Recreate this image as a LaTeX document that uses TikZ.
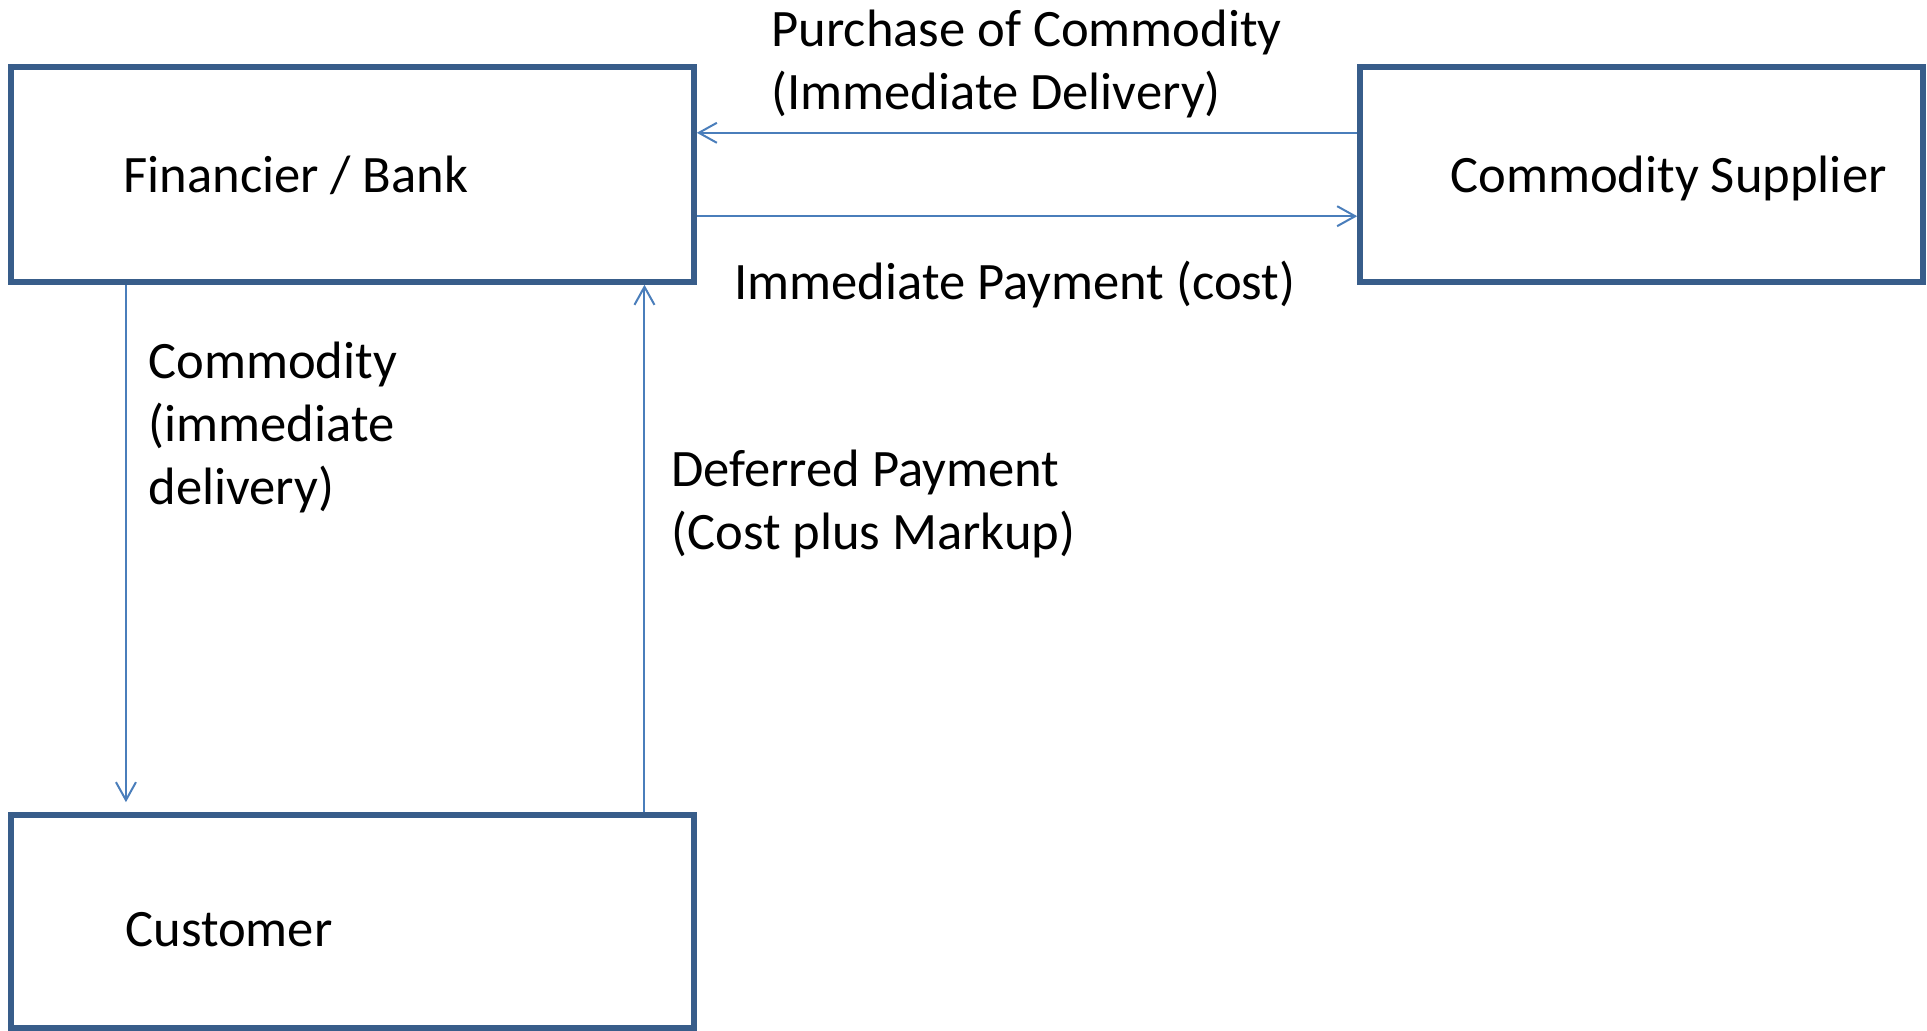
\documentclass[tikz,border=0pt]{standalone}
\usepackage{fontspec}
\setmainfont{Carlito}
\usetikzlibrary{arrows.meta,calc}
\definecolor{boxline}{HTML}{385D8A}
\definecolor{flowline}{HTML}{4A7EBB}
\begin{document}
\begin{tikzpicture}[x=0.5pt,y=-0.5pt,
  party/.style={draw=boxline,line width=2.8pt,rectangle,inner sep=0pt,fill=white},
  flow/.style={draw=flowline,line width=1pt,-{Straight Barb[length=9pt,width=10pt,line width=1pt]}},
  lbl/.style={inner sep=0pt,anchor=base west,align=left,
    font=\fontsize{26.3pt}{31.7pt}\selectfont}]
  \useasboundingbox (0,0) rectangle (1927,1031);

  % the three parties
  \node[party,minimum width=341.5pt,minimum height=107.5pt] (fin)  at (352.5,174.5) {};
  \node[party,minimum width=281.5pt,minimum height=107.5pt] (sup)  at (1641.5,174.5) {};
  \node[party,minimum width=341.5pt,minimum height=106.5pt] (cust) at (352.5,921.5) {};

  \node[lbl] (finlbl)  at (123,193)  {Financier / Bank};
  \node[lbl] (suplbl)  at (1450,193) {Commodity Supplier};
  \node[lbl] (custlbl) at (125,946)  {Customer};

  % attachment points on the box edges
  \coordinate (supin)  at ($(sup.north west)!0.311!(sup.south west)$);
  \coordinate (supout) at ($(sup.north west)!0.689!(sup.south west)$);
  \coordinate (finin)  at ($(fin.north east)!0.311!(fin.south east)$);
  \coordinate (finout) at ($(fin.north east)!0.689!(fin.south east)$);
  \coordinate (findown) at ($(fin.south west)!0.171!(fin.south east)$);
  \coordinate (finup)   at ($(fin.south west)!0.924!(fin.south east)$);
  \coordinate (custin)  at ([yshift=5pt]$(cust.north west)!0.171!(cust.north east)$);
  \coordinate (custout) at ($(cust.north west)!0.924!(cust.north east)$);

  % flows of goods and money
  \draw[flow] (supin) -- (finin);
  \draw[flow] (finout) -- (supout);
  \draw[flow] (findown) -- (custin);
  \draw[flow] (custout) -- (finup);

  % multi-line labels are placed by the baseline of their last line
  \node[lbl] (purchase) at (771,110) {Purchase of Commodity\\(Immediate Delivery)};
  \node[lbl] (paynow)   at (734,300) {Immediate Payment (cost)};
  \node[lbl] (goods)    at (148,505) {Commodity\\(immediate\\delivery)};
  \node[lbl] (paylater) at (671,550) {Deferred Payment\\(Cost plus Markup)};
\end{tikzpicture}
\end{document}
